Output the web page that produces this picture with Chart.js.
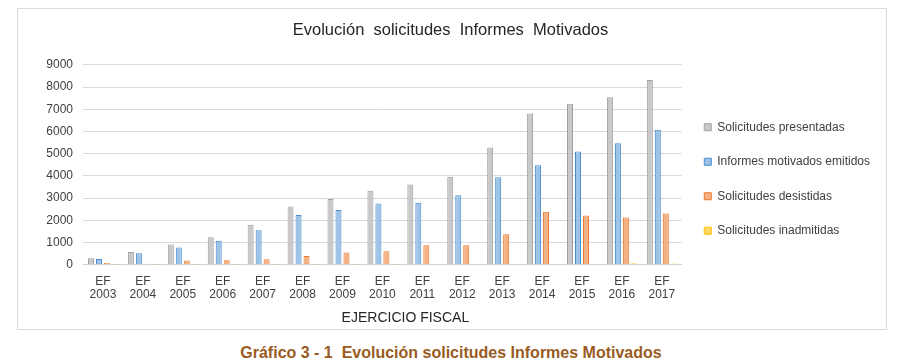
<!DOCTYPE html>
<html>
<head>
<meta charset="utf-8">
<script src="https://cdn.jsdelivr.net/npm/chart.js@4/dist/chart.umd.min.js"></script>
<style>
  html, body { margin: 0; padding: 0; background: #ffffff; width: 902px; height: 364px; overflow: hidden; }
  #box { position: absolute; left: 17px; top: 8px; width: 868px; height: 320px; border: 1px solid #d9d9d9; }
  #wrap { position: absolute; left: 0; top: 0; width: 868px; height: 320px; }
  #caption { position: absolute; left: 0; top: 344px; width: 902px; text-align: center;
    font-family: "Liberation Sans", Arial, sans-serif; font-weight: bold; font-size: 16px; color: #9a5b22; }
</style>
</head>
<body>
<div id="box"><div id="wrap"><canvas id="c" width="868" height="320"></canvas></div></div>
<div id="caption">Gráfico 3 - 1&nbsp; Evolución solicitudes Informes Motivados</div>
<script>
const categories = ['2003','2004','2005','2006','2007','2008','2009','2010','2011','2012','2013','2014','2015','2016','2017'];
const presentadas = [290, 570, 900, 1230, 1800, 2620, 2950, 3330, 3610, 3960, 5270, 6810, 7240, 7540, 8310];
const emitidos    = [250, 510, 770, 1070, 1550, 2230, 2460, 2750, 2790, 3120, 3930, 4470, 5100, 5470, 6070];
const desistidas  = [70, 40, 180, 200, 240, 390, 540, 600, 870, 870, 1370, 2380, 2210, 2120, 2300];
const inadmitidas = [5, 5, 5, 5, 5, 10, 10, 10, 40, 15, 15, 20, 20, 60, 50];
const yTicks = [0, 1000, 2000, 3000, 4000, 5000, 6000, 7000, 8000, 9000];
const seriesNames = ['Solicitudes presentadas', 'Informes motivados emitidos', 'Solicitudes desistidas', 'Solicitudes inadmitidas'];
const xAxisTitle = 'EJERCICIO FISCAL';

const FONT = "'Liberation Sans', Arial, sans-serif";
Chart.defaults.font.family = FONT;

const mk = (label, data, bg, bd) => ({
  label, data, backgroundColor: bg, borderColor: bd, borderWidth: 1,
  categoryPercentage: 0.8, barPercentage: 0.75
});

// draws the x-axis title slightly right of centre, as in the reference
const axisTitlePlugin = {
  id: 'axisTitle',
  afterDraw(chart) {
    const ctx = chart.ctx;
    const a = chart.chartArea;
    ctx.save();
    ctx.font = "14px " + FONT;
    ctx.fillStyle = '#262626';
    ctx.textAlign = 'center';
    ctx.textBaseline = 'middle';
    ctx.fillText(xAxisTitle, (a.left + a.right) / 2 + 23, a.bottom + 54);
    ctx.restore();
  }
};

new Chart(document.getElementById('c'), {
  type: 'bar',
  data: {
    labels: categories.map(y => ['EF', y]),
    datasets: [
      mk(seriesNames[0], presentadas, '#c9c9c9', '#a0a0a0'),
      mk(seriesNames[1], emitidos, '#9dc3e6', '#4a8ad0'),
      mk(seriesNames[2], desistidas, '#f4b183', '#ea7a30'),
      mk(seriesNames[3], inadmitidas, '#ffd966', '#ffc000')
    ]
  },
  plugins: [axisTitlePlugin],
  options: {
    responsive: false,
    animation: false,
    layout: { padding: { left: 3, right: 6, top: 8, bottom: 26 } },
    plugins: {
      title: {
        display: true,
        text: 'Evolución  solicitudes  Informes  Motivados',
        color: '#262626',
        font: { size: 16.5, weight: 'normal', family: FONT },
        padding: { top: 4, bottom: 24 }
      },
      legend: {
        position: 'right',
        align: 'center',
        title: { display: true, text: ' ', font: { size: 10 }, padding: { top: 26, bottom: 0 } },
        labels: {
          boxWidth: 7, boxHeight: 7, padding: 22.5,
          color: '#404040',
          font: { size: 12, family: FONT }
        }
      },
      tooltip: { enabled: false }
    },
    scales: {
      x: {
        grid: { display: false },
        border: { color: '#d0d0d0' },
        ticks: { color: '#404040', font: { size: 12, lineHeight: 1.1 }, maxRotation: 0, autoSkip: false, padding: 2 }
      },
      y: {
        min: 0, max: 9000,
        afterBuildTicks: (s) => { s.ticks = yTicks.map(v => ({ value: v })); },
        afterFit: (s) => { s.width = 62; },
        grid: { color: '#d9d9d9', drawTicks: false },
        border: { display: false },
        ticks: { color: '#404040', font: { size: 12 }, padding: 10, callback: (v) => String(v) }
      }
    }
  }
});
</script>
</body>
</html>
